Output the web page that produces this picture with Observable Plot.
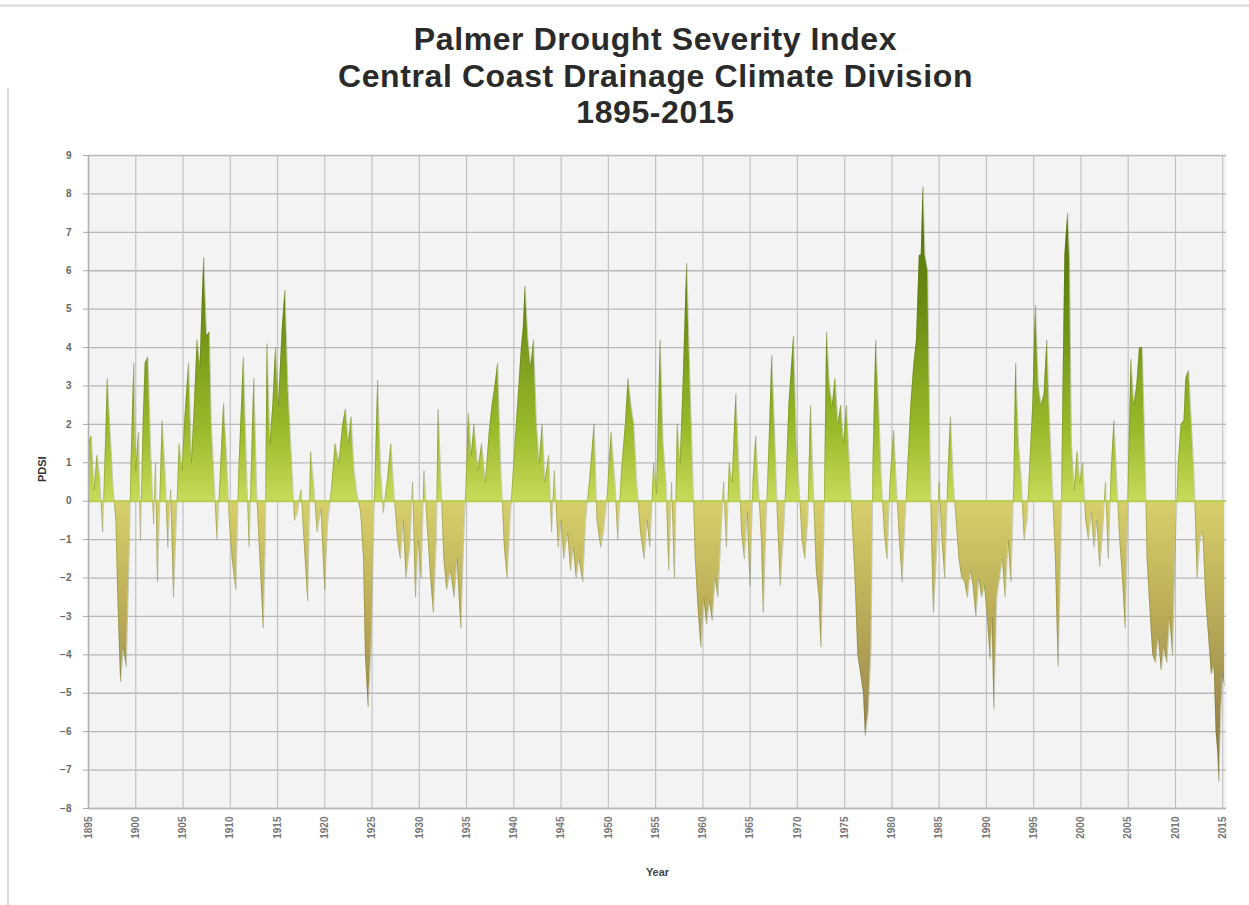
<!DOCTYPE html>
<html><head><meta charset="utf-8">
<script src="https://cdn.jsdelivr.net/npm/d3@7"></script>
<script src="https://cdn.jsdelivr.net/npm/@observablehq/plot@0.6"></script>
<style>
body{margin:0;background:#fff;font-family:"Liberation Sans",Arial,sans-serif;}
#wrap{position:relative;width:1249px;height:905px;overflow:hidden;background:#fff}
#title{position:absolute;left:62px;top:21px;width:1187px;text-align:center;font-weight:bold;font-size:32px;line-height:36.5px;color:#2a2a2a;letter-spacing:0.6px}
#chart{position:absolute;left:0;top:130px}
.topline{position:absolute;left:0;top:4px;width:1249px;height:3px;background:#e2e2e2}
.leftline{position:absolute;left:7px;top:88px;width:2px;height:817px;background:#dadada}
</style></head>
<body><div id="wrap">
<div class="topline"></div><div class="leftline"></div>
<div id="title"></div>
<div id="chart"></div>
</div>
<script>
const titleLines = ["Palmer Drought Severity Index", "Central Coast Drainage Climate Division", "1895-2015"];
const yTicks = [-8,-7,-6,-5,-4,-3,-2,-1,0,1,2,3,4,5,6,7,8,9];
const xTicks = [1895,1900,1905,1910,1915,1920,1925,1930,1935,1940,1945,1950,1955,1960,1965,1970,1975,1980,1985,1990,1995,2000,2005,2010,2015];
// [year, PDSI] readings
const readings = [
[1895.0,1.5],[1895.3,1.7],[1895.6,0.3],[1895.9,1.2],[1896.2,0.6],[1896.5,-0.8],[1896.8,1.5],[1897.0,3.2],[1897.3,1.8],[1897.6,0.4],[1897.9,-0.5],
[1898.1,-2.5],[1898.4,-4.7],[1898.7,-3.8],[1899.0,-4.3],[1899.3,-1.5],[1899.5,1.0],[1899.8,3.6],[1900.0,0.8],[1900.3,1.8],[1900.5,-1.0],[1900.8,2.2],
[1901.0,3.6],[1901.3,3.75],[1901.6,1.2],[1901.9,-0.6],[1902.1,1.0],[1902.3,-2.1],[1902.6,0.5],[1902.8,2.1],[1903.1,0.8],[1903.4,-1.2],[1903.7,0.3],
[1904.0,-2.5],[1904.3,-0.5],[1904.6,1.5],[1904.9,0.8],[1905.2,2.2],[1905.6,3.6],[1905.9,1.0],[1906.2,2.5],[1906.5,4.2],[1906.8,3.5],[1907.0,5.0],
[1907.2,6.35],[1907.5,4.3],[1907.8,4.4],[1908.0,2.0],[1908.3,0.5],[1908.6,-1.0],[1908.9,0.5],[1909.3,2.55],[1909.6,1.2],[1909.9,-0.5],[1910.2,-1.5],
[1910.6,-2.3],[1910.9,0.8],[1911.4,3.75],[1911.7,1.0],[1912.0,-1.2],[1912.3,1.5],[1912.5,3.2],[1912.8,0.2],[1913.2,-1.8],[1913.5,-3.3],[1913.7,-1.2],
[1913.9,4.1],[1914.2,1.5],[1914.5,2.5],[1914.8,4.0],[1915.1,2.5],[1915.5,4.5],[1915.8,5.5],[1916.1,3.0],[1916.4,1.5],[1916.8,-0.5],[1917.1,-0.3],
[1917.5,0.3],[1917.8,-1.0],[1918.2,-2.6],[1918.5,1.3],[1918.8,0.5],[1919.2,-0.8],[1919.6,-0.2],[1920.0,-2.3],[1920.3,-0.6],[1920.7,0.3],[1921.1,1.5],
[1921.5,1.0],[1921.9,2.0],[1922.2,2.4],[1922.5,1.5],[1922.8,2.2],[1923.1,0.8],[1923.4,0.2],[1923.8,-0.3],[1924.1,-1.5],[1924.3,-4.0],[1924.6,-5.35],
[1924.9,-3.8],[1925.2,-0.5],[1925.6,3.15],[1925.9,0.8],[1926.2,-0.3],[1926.6,0.5],[1927.0,1.5],[1927.3,0.3],[1927.7,-1.0],[1928.0,-1.5],[1928.3,-0.5],
[1928.6,-2.0],[1929.0,-1.2],[1929.3,0.5],[1929.6,-2.5],[1929.9,-1.0],[1930.2,-2.0],[1930.5,0.8],[1930.8,-0.5],[1931.2,-2.0],[1931.5,-2.9],[1931.8,-1.0],
[1932.0,2.4],[1932.3,0.5],[1932.6,-1.5],[1932.9,-2.3],[1933.3,-1.8],[1933.7,-2.5],[1934.0,-1.5],[1934.4,-3.3],[1934.7,-1.0],[1935.0,0.8],[1935.2,2.3],
[1935.5,1.2],[1935.8,2.0],[1936.2,0.8],[1936.6,1.5],[1937.0,0.5],[1937.4,1.8],[1937.7,2.5],[1938.0,3.0],[1938.3,3.6],[1938.6,1.0],[1939.0,-1.2],
[1939.3,-2.0],[1939.6,-0.5],[1940.0,1.0],[1940.4,2.5],[1940.8,4.0],[1941.0,4.5],[1941.2,5.6],[1941.5,4.2],[1941.8,3.5],[1942.1,4.2],[1942.4,2.0],
[1942.7,1.0],[1943.0,2.0],[1943.3,0.5],[1943.7,1.2],[1944.0,-0.8],[1944.3,0.8],[1944.7,-1.2],[1945.0,-0.5],[1945.3,-1.5],[1945.7,-0.8],[1946.0,-1.8],
[1946.3,-1.2],[1946.6,-2.0],[1946.9,-1.5],[1947.3,-2.1],[1947.6,-0.5],[1948.0,0.5],[1948.5,2.0],[1948.8,-0.5],[1949.2,-1.2],[1949.5,-0.8],[1949.9,0.2],
[1950.3,1.8],[1950.7,0.5],[1951.0,-1.0],[1951.4,0.8],[1951.8,2.0],[1952.1,3.2],[1952.4,2.5],[1952.7,2.0],[1953.0,0.5],[1953.4,-0.8],[1953.8,-1.5],
[1954.1,-0.5],[1954.4,-1.2],[1954.8,1.0],[1955.1,0.2],[1955.5,4.2],[1955.8,1.5],[1956.1,0.5],[1956.4,-1.8],[1956.7,0.5],[1957.0,-2.0],[1957.3,2.0],
[1957.6,1.0],[1957.9,3.0],[1958.3,6.2],[1958.6,3.5],[1958.9,1.0],[1959.2,-1.5],[1959.5,-2.8],[1959.8,-3.8],[1960.1,-2.5],[1960.4,-3.2],[1960.7,-2.6],
[1961.0,-3.1],[1961.3,-2.0],[1961.6,-2.5],[1961.9,-1.0],[1962.2,0.5],[1962.5,-1.2],[1962.8,1.0],[1963.1,0.5],[1963.5,2.8],[1963.8,1.0],[1964.1,-0.8],
[1964.4,-1.5],[1964.7,-0.3],[1965.0,-2.2],[1965.3,0.5],[1965.6,1.7],[1965.9,0.3],[1966.2,-1.0],[1966.4,-2.9],[1966.7,-0.5],[1967.0,1.5],[1967.3,3.8],
[1967.6,1.8],[1967.9,-0.5],[1968.2,-2.2],[1968.5,-1.0],[1968.8,0.5],[1969.1,2.5],[1969.6,4.3],[1969.9,1.5],[1970.2,0.3],[1970.5,-1.0],[1970.8,-1.5],
[1971.1,-0.5],[1971.4,2.5],[1971.7,0.3],[1972.0,-1.8],[1972.3,-2.5],[1972.5,-3.8],[1972.8,-1.0],[1973.1,4.4],[1973.4,3.0],[1973.7,2.5],[1974.0,3.2],
[1974.3,2.0],[1974.6,2.5],[1974.9,1.5],[1975.2,2.5],[1975.5,1.0],[1975.8,-0.5],[1976.1,-2.0],[1976.4,-4.0],[1976.7,-4.5],[1977.0,-5.0],[1977.2,-6.1],
[1977.5,-5.5],[1977.8,-3.8],[1978.0,1.0],[1978.3,4.2],[1978.6,2.5],[1978.9,0.5],[1979.2,-0.8],[1979.5,-1.5],[1979.8,0.5],[1980.2,1.85],[1980.5,0.3],
[1980.8,-1.0],[1981.1,-2.1],[1981.4,-0.5],[1981.7,1.0],[1982.0,2.5],[1982.3,3.5],[1982.6,4.2],[1982.9,6.4],[1983.1,6.4],[1983.3,8.2],[1983.5,6.4],
[1983.8,6.0],[1984.0,2.0],[1984.2,-1.0],[1984.4,-2.9],[1984.7,-1.5],[1985.0,0.5],[1985.3,-1.0],[1985.6,-2.0],[1985.9,0.5],[1986.2,2.2],[1986.5,0.5],
[1986.8,-0.5],[1987.1,-1.5],[1987.4,-2.0],[1987.7,-2.1],[1988.0,-2.5],[1988.3,-1.8],[1988.6,-2.2],[1988.9,-3.0],[1989.2,-2.0],[1989.5,-2.5],[1989.8,-2.2],
[1990.1,-3.0],[1990.4,-4.1],[1990.6,-3.0],[1990.8,-5.4],[1991.1,-2.5],[1991.4,-2.0],[1991.7,-1.5],[1992.0,-2.5],[1992.3,-1.0],[1992.6,-2.1],[1992.9,0.5],
[1993.1,3.6],[1993.4,1.5],[1993.7,0.5],[1994.0,-1.0],[1994.3,-0.5],[1994.6,1.0],[1994.9,2.5],[1995.2,5.1],[1995.5,3.0],[1995.8,2.5],[1996.1,2.8],
[1996.4,4.2],[1996.7,2.0],[1997.0,0.3],[1997.3,-1.5],[1997.6,-4.3],[1997.9,-1.0],[1998.1,3.0],[1998.3,6.4],[1998.6,7.5],[1998.8,6.3],[1999.0,1.5],
[1999.3,0.3],[1999.6,1.3],[1999.9,0.5],[2000.2,1.0],[2000.5,-0.5],[2000.8,-1.0],[2001.1,-0.3],[2001.4,-1.2],[2001.7,-0.5],[2002.0,-1.7],[2002.3,-0.8],
[2002.6,0.5],[2002.9,-1.5],[2003.2,0.8],[2003.5,2.1],[2003.8,0.5],[2004.1,-1.0],[2004.4,-2.0],[2004.7,-3.3],[2005.0,0.5],[2005.3,3.7],[2005.6,2.5],
[2005.9,3.0],[2006.2,4.0],[2006.5,4.0],[2006.8,1.0],[2007.0,-1.5],[2007.3,-2.8],[2007.6,-4.0],[2007.9,-4.2],[2008.2,-3.5],[2008.5,-4.4],[2008.8,-3.8],
[2009.1,-4.2],[2009.4,-3.0],[2009.7,-4.0],[2010.0,-1.0],[2010.3,1.0],[2010.6,2.0],[2010.9,2.1],[2011.1,3.2],[2011.4,3.4],[2011.7,2.0],[2012.0,0.5],
[2012.3,-2.0],[2012.6,-1.0],[2012.9,-0.8],[2013.2,-2.5],[2013.5,-3.5],[2013.8,-4.5],[2014.1,-4.3],[2014.3,-6.0],[2014.5,-6.6],[2014.6,-7.3],[2014.8,-5.5],
[2015.0,-4.5],[2015.2,-4.8]
];

document.getElementById("title").innerHTML = titleLines.map(s => `<div>${s}</div>`).join("");

const fontFam = "'Liberation Sans', Arial, sans-serif";
const chart = Plot.plot({
  width: 1249, height: 775,
  marginLeft: 88, marginRight: 23, marginTop: 25, marginBottom: 97,
  style: {fontFamily: fontFam, fontSize: "10px", background: "transparent", overflow: "visible"},
  x: {domain: [1895, 2015.4], label: null},
  y: {domain: [-8, 9], label: null},
  marks: [
    Plot.frame({fill: "#f3f3f3", stroke: null}),
    Plot.gridY(yTicks, {stroke: "#b8b8b8", strokeOpacity: 1, strokeWidth: 1.3}),
    Plot.gridX(xTicks, {stroke: "#c2c2c2", strokeOpacity: 1, strokeWidth: 1.2}),
    Plot.areaY(readings, {x: d => d[0], y: d => d[1], fill: "url(#pdsiGrad)", curve: "linear"}),
    Plot.lineY(readings, {x: d => d[0], y: d => d[1], stroke: "#56661c", strokeOpacity: 0.35, strokeWidth: 0.8}),
    Plot.ruleY([0], {stroke: "#b9cc4c", strokeWidth: 2}),
    Plot.ruleX([1895], {stroke: "#b0b0b0", strokeWidth: 1.5}),
    Plot.ruleY([-8], {stroke: "#b8b8b8", strokeWidth: 1.5}),
    Plot.axisY(yTicks, {tickSize: 5, tickPadding: 12, fill: "#666", stroke: "#aaa", label: null, fontWeight: "bold"}),
    Plot.axisX(xTicks, {tickRotate: -90, tickSize: 0, tickPadding: 8, fill: "#777", label: null, fontWeight: "bold", tickFormat: d => String(d)}),
    Plot.text(["PDSI"], {text: d => d, frameAnchor: "left", dx: -46, rotate: -90, fontWeight: "bold", fontSize: 11, fill: "#333"}),
    Plot.text(["Year"], {text: d => d, frameAnchor: "bottom", dy: 67, fontWeight: "bold", fontSize: 11, fill: "#444"})
  ]
});

// vertical gradient: dark green at top -> yellow-green at zero -> olive -> brown at bottom
const ys = chart.scale("y");
const yTop = ys.apply(9), yZero = ys.apply(0), yBot = ys.apply(-8);
const z = (yZero - yTop) / (yBot - yTop);
const svg = d3.select(chart);
const grad = svg.insert("defs", ":first-child").append("linearGradient")
  .attr("id", "pdsiGrad").attr("gradientUnits", "userSpaceOnUse")
  .attr("x1", 0).attr("x2", 0).attr("y1", yTop).attr("y2", yBot);
[[0, "#4a6608"], [z * 0.45, "#6a8d12"], [z * 0.8, "#9bbb2c"], [z, "#c8da5a"],
 [z + 0.001, "#d6cf6c"], [z + (1 - z) * 0.35, "#bcae58"], [z + (1 - z) * 0.7, "#9c8a50"], [1, "#7f7048"]]
  .forEach(([o, c]) => grad.append("stop").attr("offset", o).attr("stop-color", c));

document.getElementById("chart").appendChild(chart);
</script>
</body></html>
